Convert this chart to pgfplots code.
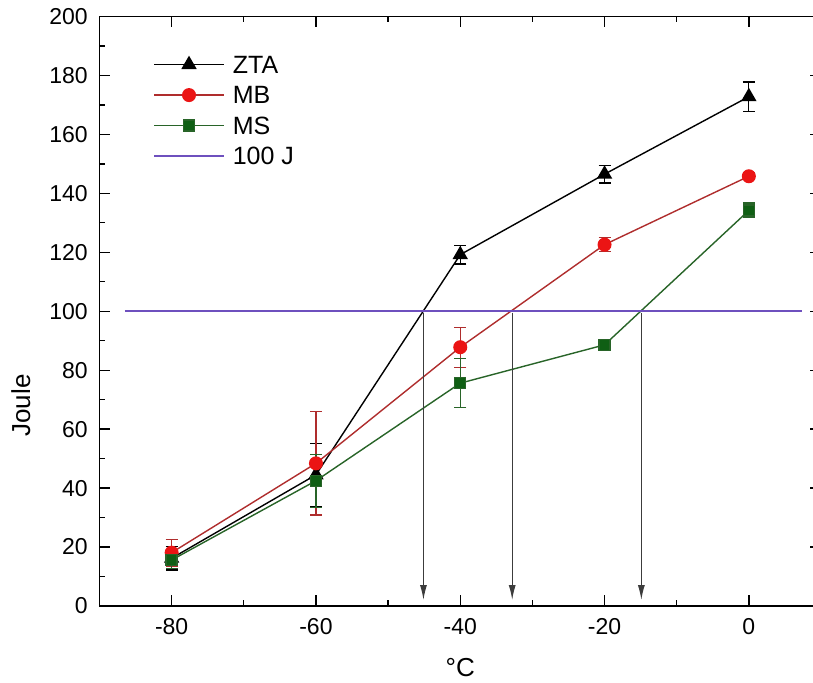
\documentclass[border=0pt]{standalone}
\usepackage{pgfplots}
\pgfplotsset{compat=1.18}
\usepackage{fontspec}
\setmainfont{Liberation Sans}
\usetikzlibrary{arrows.meta}
\definecolor{mbline}{RGB}{175,45,45}
\definecolor{mbmark}{RGB}{235,20,20}
\definecolor{msline}{RGB}{40,100,40}
\definecolor{msmark}{RGB}{15,95,20}
\definecolor{jline}{RGB}{110,80,190}
\definecolor{arrowc}{RGB}{60,60,60}
\begin{document}
\fontsize{23}{27}\selectfont
\begin{tikzpicture}
\begin{axis}[
  scale only axis, width=721.5pt, height=589.5pt,
  xmin=-90, xmax=10, ymin=0, ymax=200,
  xtick={-80,-60,-40,-20,0}, xticklabels={-80,-60,-40,-20,0},
  ytick={0,20,...,200},
  minor x tick num=1, minor y tick num=1,
  major tick length=11pt, minor tick length=6pt,
  tick style={line width=1.3pt, black},
  axis line style={line width=1.5pt},
  /pgf/number format/assume math mode=true,
  ticklabel style={font=\fontsize{23}{27}\selectfont},
  yticklabel style={xshift=-4pt},
  xticklabel style={yshift=-5pt},
  xlabel={°C}, ylabel={Joule},
  label style={font=\fontsize{26}{30}\selectfont},
  xlabel style={at={(axis description cs:0.5,-0.105)}, anchor=center},
  ylabel style={at={(axis description cs:-0.109,0.34)}, anchor=center},
  legend style={at={(rel axis cs:0.07,0.937)}, anchor=north west, draw=none, fill=none,
    font=\fontsize{25}{29}\selectfont, row sep=13pt,
    nodes={inner sep=0pt, text height=17.5pt, text depth=0pt},
    /tikz/column 1/.style={column sep=8pt}},
  legend cell align=left,
  legend image code/.code={\draw[mark repeat=2,mark phase=2] plot coordinates {(0pt,0pt) (35pt,0pt) (70pt,0pt)};},
]
\addplot[black, line width=1.4pt, mark=triangle*, mark size=7.5pt, mark options={solid, fill=black},
  error bars/.cd, y dir=both, y explicit,
  error bar style={line width=1.2pt, black},
  error mark options={rotate=90, mark size=6pt, line width=1.2pt, black}]
  coordinates {
  (-80,16.2) +- (0,4.0)
  (-60,44.5) +- (0,10.7)
  (-40,119.2) +- (0,3.2)
  (-20,146.5) +- (0,3.0)
  (0,172.8) +- (0,5.0)
  };
\addlegendentry{ZTA}
\addplot[mbline, line width=1.4pt, mark=*, mark size=6.3pt, mark options={solid, fill=mbmark, draw=mbmark},
  error bars/.cd, y dir=both, y explicit,
  error bar style={line width=1.2pt, mbline},
  error mark options={rotate=90, mark size=6pt, line width=1.2pt, mbline}]
  coordinates {
  (-80,18.1) +- (0,4.5)
  (-60,48.4) +- (0,17.5)
  (-40,87.8) +- (0,6.8)
  (-20,122.6) +- (0,2.3)
  (0,145.8) +- (0,1.2)
  };
\addlegendentry{MB}
\addplot[msline, line width=1.4pt, mark=square*, mark size=5.5pt, mark options={solid, fill=msmark, draw=msline},
  error bars/.cd, y dir=both, y explicit,
  error bar style={line width=1.2pt, msline},
  error mark options={rotate=90, mark size=6pt, line width=1.2pt, msline}]
  coordinates {
  (-80,15.6) +- (0,3.0)
  (-60,42.5) +- (0,9.0)
  (-40,75.6) +- (0,8.3)
  (-20,88.6) +- (0,1.8)
  (0,134.2) +- (0,2.5)
  };
\addlegendentry{MS}
\addplot[jline, line width=1.6pt, no markers] coordinates {(-86.5,100) (7.3,100)};
\addlegendentry{100 J}
\addplot[arrowc, line width=1.3pt, no markers, -{Latex[length=15pt,width=7pt]}, forget plot]
  coordinates {(-45.1,99.5) (-45.1,2)};
\addplot[arrowc, line width=1.3pt, no markers, -{Latex[length=15pt,width=7pt]}, forget plot]
  coordinates {(-32.8,99.5) (-32.8,2)};
\addplot[arrowc, line width=1.3pt, no markers, -{Latex[length=15pt,width=7pt]}, forget plot]
  coordinates {(-14.9,99.5) (-14.9,2)};
\end{axis}
\pgfresetboundingbox
\path[use as bounding box] ([xshift=-99.5pt,yshift=-76pt]current axis.south west) rectangle ([xshift=-8pt,yshift=16.5pt]current axis.north east);
\end{tikzpicture}
\end{document}
